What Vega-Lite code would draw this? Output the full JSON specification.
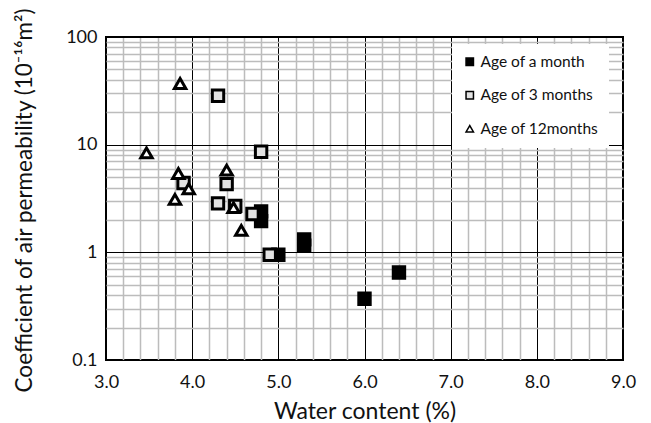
{
  "$schema": "https://vega.github.io/schema/vega-lite/v6.json",
  "width": 517,
  "height": 323,
  "autosize": {"type": "none"},
  "padding": {"left": 106, "top": 37, "right": 28, "bottom": 63},
  "background": "white",
  "config": {
    "view": {"stroke": "black", "strokeWidth": 2},
    "font": "Lato"
  },
  "data": {
    "values": [
      {"age": "Age of a month", "water": 4.8, "perm": 2.4},
      {"age": "Age of a month", "water": 4.8, "perm": 1.95},
      {"age": "Age of a month", "water": 5.0, "perm": 0.95},
      {"age": "Age of a month", "water": 5.3, "perm": 1.32},
      {"age": "Age of a month", "water": 5.3, "perm": 1.15},
      {"age": "Age of a month", "water": 6.0, "perm": 0.37},
      {"age": "Age of a month", "water": 6.4, "perm": 0.65},
      {"age": "Age of 3 months", "water": 4.3, "perm": 28.5},
      {"age": "Age of 3 months", "water": 4.8, "perm": 8.6},
      {"age": "Age of 3 months", "water": 4.4, "perm": 4.3},
      {"age": "Age of 3 months", "water": 3.9, "perm": 4.4},
      {"age": "Age of 3 months", "water": 4.3, "perm": 2.85},
      {"age": "Age of 3 months", "water": 4.5, "perm": 2.7},
      {"age": "Age of 3 months", "water": 4.7, "perm": 2.27},
      {"age": "Age of 3 months", "water": 4.9, "perm": 0.95},
      {"age": "Age of 12months", "water": 3.86, "perm": 37},
      {"age": "Age of 12months", "water": 3.47, "perm": 8.4},
      {"age": "Age of 12months", "water": 3.84, "perm": 5.4},
      {"age": "Age of 12months", "water": 3.96, "perm": 3.9},
      {"age": "Age of 12months", "water": 3.8, "perm": 3.1},
      {"age": "Age of 12months", "water": 4.4, "perm": 5.8},
      {"age": "Age of 12months", "water": 4.48, "perm": 2.6},
      {"age": "Age of 12months", "water": 4.57, "perm": 1.6}
    ]
  },
  "mark": {"type": "point", "filled": true, "size": 130, "stroke": "black", "strokeWidth": 3, "strokeJoin": "miter", "opacity": 1},
  "encoding": {
    "x": {
      "field": "water",
      "type": "quantitative",
      "scale": {"domain": [3, 9], "nice": false, "zero": false},
      "axis": {
        "values": [3, 3.2, 3.4, 3.6, 3.8, 4, 4.2, 4.4, 4.6, 4.8, 5, 5.2, 5.4, 5.6, 5.8, 6, 6.2, 6.4, 6.6, 6.8, 7, 7.2, 7.4, 7.6, 7.8, 8, 8.2, 8.4, 8.6, 8.8, 9],
        "format": ".1f",
        "labelExpr": "datum.value % 1 == 0 ? datum.label : ''",
        "domain": false,
        "ticks": false,
        "labelPadding": 13,
        "labelFontSize": 18,
        "labelColor": "#111111",
        "labelFlush": false,
        "labelOverlap": false,
        "gridColor": {"condition": {"test": "datum.value % 1 == 0", "value": "#000000"}, "value": "#bcbcbc"},
        "gridWidth": {"condition": {"test": "datum.value % 1 == 0", "value": 1}, "value": 1.5},
        "gridOpacity": 1,
        "title": "Water content (%)",
        "titleFontSize": 23,
        "titleFontWeight": "normal",
        "titleColor": "#111111",
        "titleY": 58,
        "titleBaseline": "alphabetic"
      }
    },
    "y": {
      "field": "perm",
      "type": "quantitative",
      "scale": {"type": "log", "domain": [0.1, 100], "nice": false},
      "axis": {
        "values": [0.1, 0.2, 0.3, 0.4, 0.5, 0.6, 0.7, 0.8, 0.9, 1, 2, 3, 4, 5, 6, 7, 8, 9, 10, 20, 30, 40, 50, 60, 70, 80, 90, 100],
        "format": "~g",
        "labelExpr": "indexof([0.1, 1, 10, 100], datum.value) >= 0 ? datum.label : ''",
        "domain": false,
        "ticks": false,
        "labelPadding": 9,
        "labelFontSize": 18,
        "labelColor": "#111111",
        "labelFlush": false,
        "labelOverlap": false,
        "gridColor": {"condition": {"test": "indexof([0.1, 1, 10, 100], datum.value) >= 0", "value": "#000000"}, "value": "#bcbcbc"},
        "gridWidth": {"condition": {"test": "indexof([0.1, 1, 10, 100], datum.value) >= 0", "value": 1}, "value": 1.5},
        "gridOpacity": 1,
        "title": "Coefficient of air permeability (10⁻¹⁶m²)",
        "titleFontSize": 22.5,
        "titleFontWeight": "normal",
        "titleColor": "#111111",
        "titleAngle": 270,
        "titleX": -75,
        "titleY": 163,
        "titleAlign": "center",
        "titleBaseline": "alphabetic"
      }
    },
    "shape": {
      "field": "age",
      "type": "nominal",
      "sort": null,
      "scale": {"domain": ["Age of a month", "Age of 3 months", "Age of 12months"], "range": ["square", "square", "triangle-up"]},
      "legend": {
        "title": null,
        "orient": "none",
        "legendX": 346,
        "legendY": 7,
        "padding": 10,
        "fillColor": "white",
        "strokeColor": null,
        "labelFontSize": 15.5,
        "labelColor": "#111111",
        "labelFont": "Lato",
        "symbolSize": 55,
        "rowPadding": 16.5,
        "labelOffset": 3,
        "labelLimit": 0,
        "encode": {"symbols": {"update": {"stroke": {"value": "black"}, "strokeWidth": {"value": 2}}}}
      }
    },
    "fill": {
      "field": "age",
      "type": "nominal",
      "sort": null,
      "scale": {"domain": ["Age of a month", "Age of 3 months", "Age of 12months"], "range": ["#000000", "#e3e3e3", "#ffffff"]},
      "legend": {
        "title": null,
        "orient": "none",
        "legendX": 346,
        "legendY": 7,
        "padding": 10,
        "fillColor": "white",
        "strokeColor": null,
        "labelFontSize": 15.5,
        "labelColor": "#111111",
        "labelFont": "Lato",
        "symbolSize": 55,
        "rowPadding": 16.5,
        "labelOffset": 3,
        "labelLimit": 0,
        "encode": {"symbols": {"update": {"stroke": {"value": "black"}, "strokeWidth": {"value": 2}}}}
      }
    }
  }
}
